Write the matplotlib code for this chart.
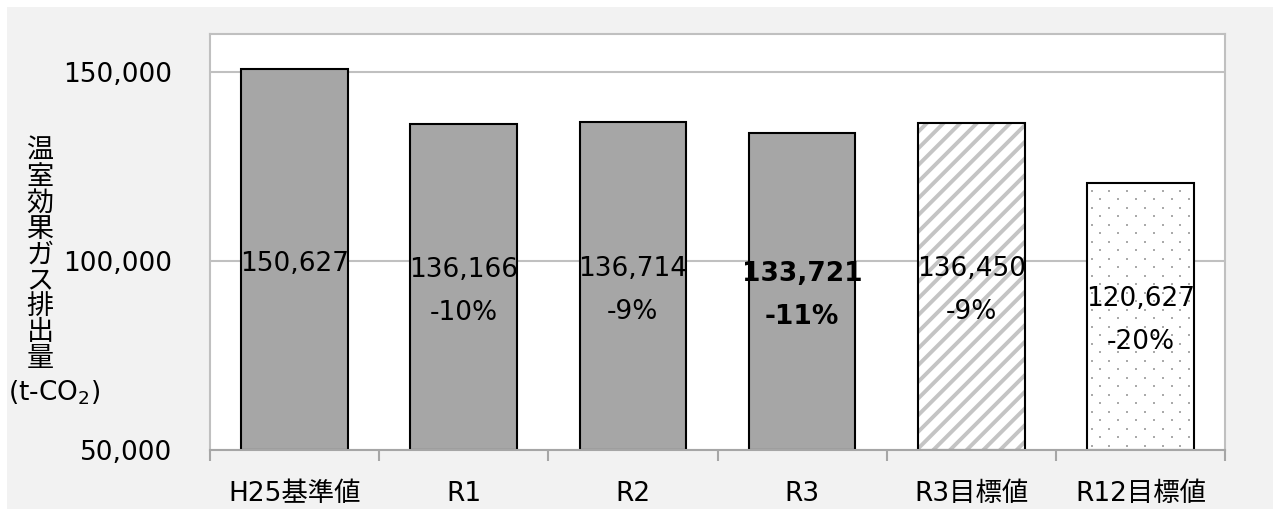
import matplotlib
matplotlib.use("Agg")
import matplotlib.pyplot as plt
from matplotlib.patches import Rectangle
from matplotlib.ticker import FuncFormatter, FixedLocator

plt.rcParams['font.family'] = ['DejaVu Sans', 'Noto Sans CJK JP']

categories = ["H25基準値", "R1", "R2", "R3", "R3目標値", "R12目標値"]
emissions = [150627, 136166, 136714, 133721, 136450, 120627]
change_labels = ["", "-10%", "-9%", "-11%", "-9%", "-20%"]
bold_flags = [False, False, False, True, False, False]
styles = ["solid", "solid", "solid", "solid", "hatch", "dots"]

y_min, y_max = 50000, 160000
y_ticks = [50000, 100000, 150000]

W, H = 1273, 509
fig = plt.figure(figsize=(W / 100, H / 100), dpi=100, facecolor="white")
fig.patches.append(Rectangle((7 / W, 0), 1 - 7 / W, 1 - 7 / H,
                             transform=fig.transFigure, facecolor="#f2f2f2",
                             edgecolor="none", zorder=-10))

left, right, top, bottom = 210, 1225, 34, 450
ax = fig.add_axes([left / W, 1 - bottom / H, (right - left) / W, (bottom - top) / H])
ax.set_facecolor("white")

x = list(range(len(categories)))
bar_w = 0.63
fs = 19

plt.rcParams['hatch.linewidth'] = 2.8
px_per_unit = (bottom - top) / (y_max - y_min)
for xi, val, st in zip(x, emissions, styles):
    if st == "solid":
        ax.bar(xi, val - y_min, bottom=y_min, width=bar_w, color="#a6a6a6",
               edgecolor="black", linewidth=1.5, zorder=3)
    elif st == "hatch":
        ax.bar(xi, val - y_min, bottom=y_min, width=bar_w, color="white",
               edgecolor="#c4c4c4", linewidth=0, hatch="//", zorder=3)
        ax.bar(xi, val - y_min, bottom=y_min, width=bar_w, color="none",
               edgecolor="black", linewidth=1.5, zorder=4)
    else:
        ax.bar(xi, val - y_min, bottom=y_min, width=bar_w, color="white",
               edgecolor="none", linewidth=0, zorder=3)
        # sparse staggered grey dot fill (about 8.5 px between rows)
        x0, x1 = xi - bar_w / 2, xi + bar_w / 2
        row_step = 8.5 / px_per_unit
        nx = 6
        col_step = (x1 - x0) / nx
        j = 0
        yy = y_min + row_step * 0.5
        while yy < val:
            off = 0.25 * col_step if j % 2 == 0 else 0.75 * col_step
            xs = [x0 + off + i * col_step for i in range(nx)]
            ax.scatter(xs, [yy] * len(xs), s=3, color="#aaaaaa",
                       linewidths=0, zorder=3.5, marker="s")
            yy += row_step
            j += 1
        ax.bar(xi, val - y_min, bottom=y_min, width=bar_w, color="none",
               edgecolor="black", linewidth=1.5, zorder=4)

# value labels centred in each bar
for xi, val, pct, b in zip(x, emissions, change_labels, bold_flags):
    mid = (val + y_min) / 2
    txt = f"{val:,}" if not pct else f"{val:,}\n{pct}"
    ax.annotate(txt, (xi, mid), xytext=(0, -3), textcoords="offset points",
                ha="center", va="center", fontsize=fs,
                fontweight="bold" if b else "normal", linespacing=1.85,
                color="black", zorder=5)

ax.set_xlim(-0.5, len(categories) - 0.5)
ax.set_ylim(y_min, y_max)
ax.yaxis.set_major_locator(FixedLocator(y_ticks))
ax.yaxis.set_major_formatter(FuncFormatter(lambda v, p: f"{int(v):,}"))
ax.tick_params(axis="y", length=0, pad=27, labelsize=fs)
ax.grid(axis="y", color="#c0c0c0", linewidth=1.5, zorder=1)

ax.set_xticks(x)
ax.set_xticklabels(categories, fontsize=fs)
ax.tick_params(axis="x", which="major", length=0, pad=22)
ax.set_xticks([i + 0.5 for i in range(-1, len(categories))], minor=True)
ax.tick_params(axis="x", which="minor", length=8, width=1.5, color="#a6a6a6")

for side in ["left", "top", "right"]:
    ax.spines[side].set_color("#c0c0c0")
    ax.spines[side].set_linewidth(1.5)
ax.spines["bottom"].set_color("#a6a6a6")
ax.spines["bottom"].set_linewidth(1.5)
ax.spines["bottom"].set_zorder(6)

# vertical axis title, stacked characters
ylabel = "温\n室\n効\n果\nガ\nス\n排\n出\n量"
fig.text(40 / W, 1 - 255 / H, ylabel, ha="center", va="center",
         fontsize=19.5, linespacing=0.95, family=["Noto Sans CJK JP", "DejaVu Sans"])
fig.text(54 / W, 1 - 393 / H, r"(t-CO$_2$)", ha="center", va="center",
         fontsize=fs)

fig.savefig("out.png", dpi=100, facecolor=fig.get_facecolor())
